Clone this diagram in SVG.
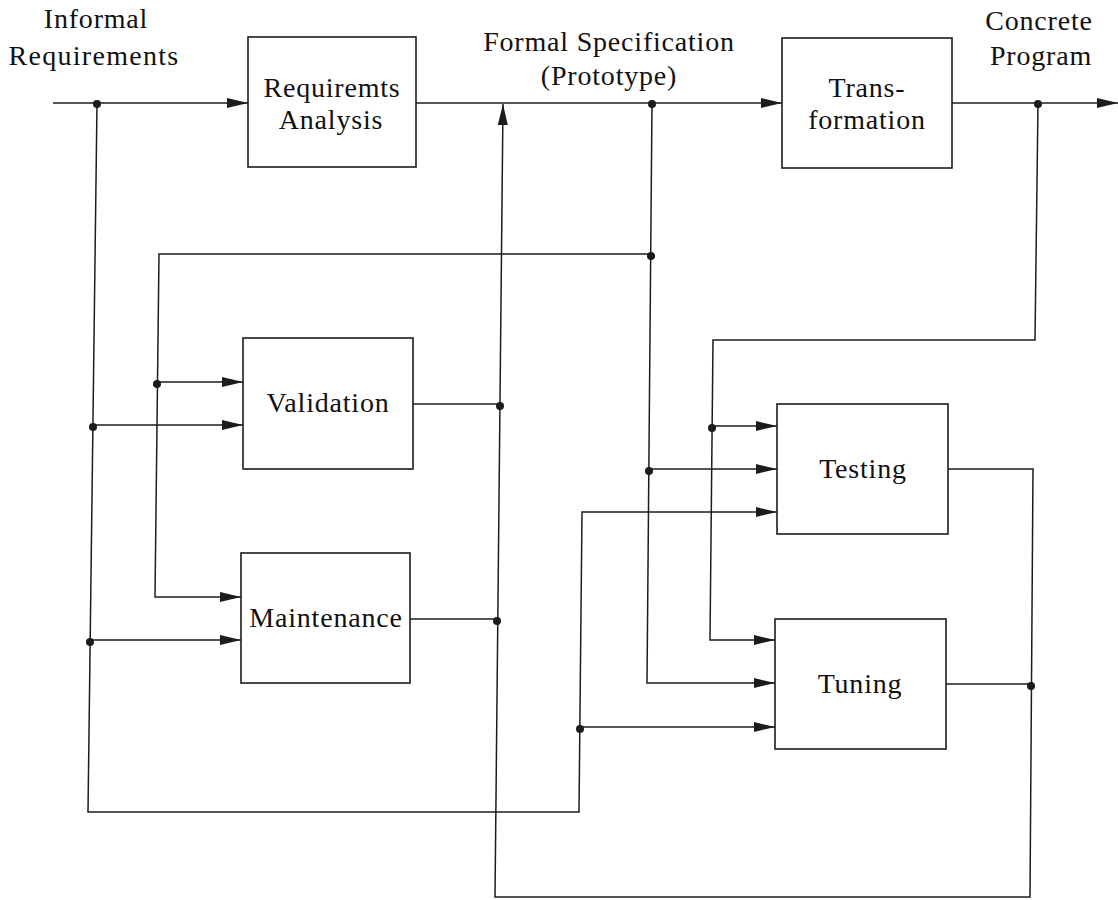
<svg xmlns="http://www.w3.org/2000/svg" width="1118" height="900" viewBox="0 0 1118 900">
  <style>
    .box { fill: #ffffff; stroke: #1c1c1c; stroke-width: 1.6; }
    .wire { fill: none; stroke: #1c1c1c; stroke-width: 1.5; }
    .dot { fill: #1c1c1c; }
    .lbl { font-family: "Liberation Serif", "Times New Roman", serif; font-size: 28px; fill: #111111; text-anchor: middle; letter-spacing: 0.8px; }
  </style>
  <defs>
    <marker id="arrow" markerUnits="userSpaceOnUse" markerWidth="22" markerHeight="11" refX="21" refY="5.5" orient="auto">
      <path d="M0,0.5 L21,5.5 L0,10.5 z" fill="#1c1c1c"/>
    </marker>
  </defs>

  <rect width="1118" height="900" fill="#ffffff"/>

  <!-- connectors -->
  <g id="connectors">
    <!-- main pipeline -->
    <path class="wire" d="M53,103 H248" marker-end="url(#arrow)"/>
    <path class="wire" d="M416,103 H782" marker-end="url(#arrow)"/>
    <path class="wire" d="M952,103 H1118" marker-end="url(#arrow)"/>

    <!-- informal requirements fan-out -->
    <path class="wire" d="M97,103 L88,812 H579 L582,512 H777" marker-end="url(#arrow)"/>
    <path class="wire" d="M93,425 H243" marker-end="url(#arrow)"/>
    <path class="wire" d="M90,640 H241" marker-end="url(#arrow)"/>
    <path class="wire" d="M580,727 H775" marker-end="url(#arrow)"/>

    <!-- formal specification fan-out -->
    <path class="wire" d="M652,103 L647,683 H775" marker-end="url(#arrow)"/>
    <path class="wire" d="M649,469 H777" marker-end="url(#arrow)"/>
    <path class="wire" d="M651,254 H159 L155,597 H241" marker-end="url(#arrow)"/>
    <path class="wire" d="M157,382 H243" marker-end="url(#arrow)"/>

    <!-- concrete program fan-out -->
    <path class="wire" d="M1038,103 L1035,340 H713 L710,640 H775" marker-end="url(#arrow)"/>
    <path class="wire" d="M712,426 H777" marker-end="url(#arrow)"/>

    <!-- feedback to formal specification -->
    <path class="wire" d="M413,404 H500"/>
    <path class="wire" d="M410,619 H497"/>
    <path class="wire" d="M948,469 H1033 L1030,897 H495 L503,104" marker-end="url(#arrow)"/>
    <path class="wire" d="M946,684 H1031"/>

    <!-- junction dots -->
    <circle class="dot" cx="97" cy="104" r="4"/>
    <circle class="dot" cx="652" cy="104" r="4"/>
    <circle class="dot" cx="1038" cy="104" r="4"/>
    <circle class="dot" cx="651" cy="256" r="4"/>
    <circle class="dot" cx="157" cy="384" r="4"/>
    <circle class="dot" cx="93" cy="427" r="4"/>
    <circle class="dot" cx="500" cy="406" r="4"/>
    <circle class="dot" cx="90" cy="642" r="4"/>
    <circle class="dot" cx="497" cy="621" r="4"/>
    <circle class="dot" cx="712" cy="428" r="4"/>
    <circle class="dot" cx="649" cy="471" r="4"/>
    <circle class="dot" cx="1031" cy="686" r="4"/>
    <circle class="dot" cx="580" cy="729" r="4"/>

    <!-- flow labels -->
    <text class="lbl" x="96" y="28">Informal</text>
    <text class="lbl" x="94" y="65" style="letter-spacing:1.3px">Requirements</text>
    <text class="lbl" x="609" y="51">Formal Specification</text>
    <text class="lbl" x="609" y="85">(Prototype)</text>
    <text class="lbl" x="1039" y="30">Concrete</text>
    <text class="lbl" x="1041" y="65">Program</text>
  </g>

  <!-- nodes -->
  <g id="requirements-analysis">
    <rect class="box" x="248" y="37" width="168" height="130"/>
    <text class="lbl" x="332" y="97">Requiremts</text>
    <text class="lbl" x="331" y="129">Analysis</text>
  </g>
  <g id="transformation">
    <rect class="box" x="782" y="38" width="170" height="130"/>
    <text class="lbl" x="867" y="97">Trans-</text>
    <text class="lbl" x="867" y="129">formation</text>
  </g>
  <g id="validation">
    <rect class="box" x="243" y="338" width="170" height="131"/>
    <text class="lbl" x="328" y="412">Validation</text>
  </g>
  <g id="maintenance">
    <rect class="box" x="241" y="553" width="169" height="130"/>
    <text class="lbl" x="326" y="627">Maintenance</text>
  </g>
  <g id="testing">
    <rect class="box" x="777" y="404" width="171" height="130"/>
    <text class="lbl" x="863" y="478">Testing</text>
  </g>
  <g id="tuning">
    <rect class="box" x="775" y="619" width="171" height="130"/>
    <text class="lbl" x="860" y="693">Tuning</text>
  </g>
</svg>
